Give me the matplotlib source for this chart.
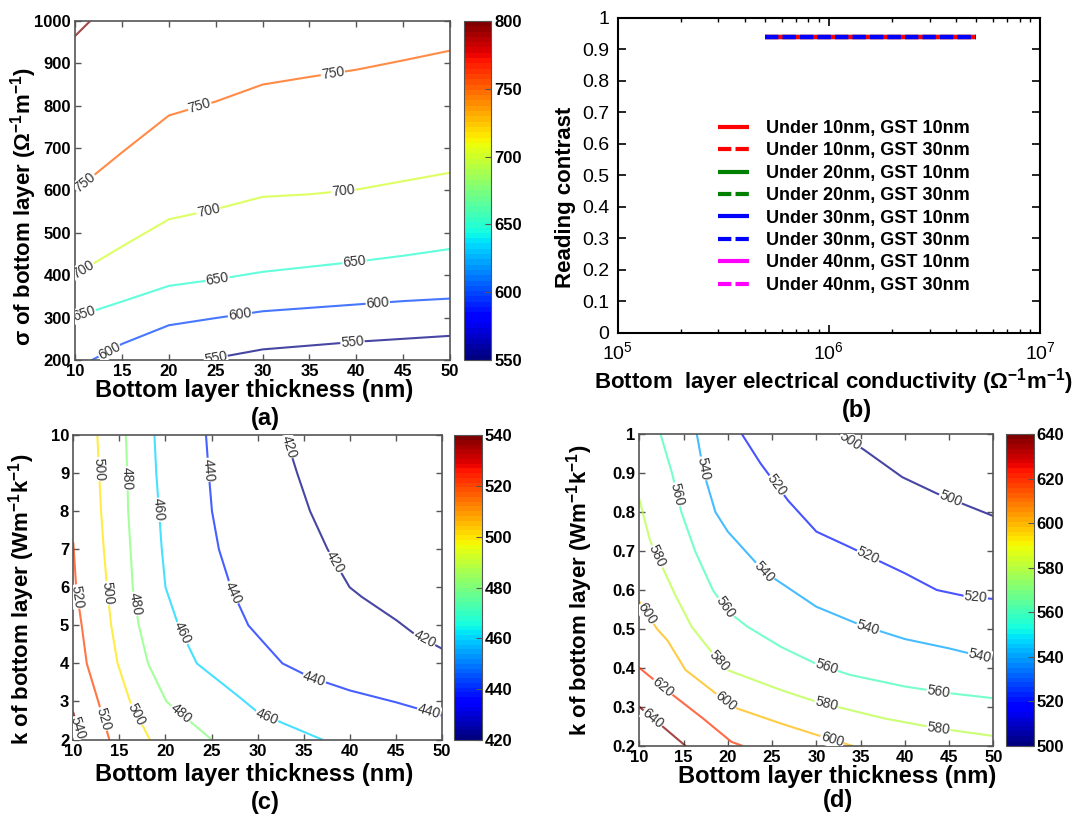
import numpy as np
import matplotlib
matplotlib.use('Agg')
import matplotlib.pyplot as plt
from matplotlib import cm, colors
from matplotlib.ticker import NullFormatter

plt.rcParams['font.family'] = ['Liberation Sans', 'DejaVu Sans']
plt.rcParams['mathtext.fontset'] = 'custom'
plt.rcParams['mathtext.rm'] = 'Liberation Sans'
plt.rcParams['mathtext.bf'] = 'Liberation Sans:bold'

W, H = 1092, 816
cmap = plt.get_cmap('jet', 64)

# (a) peak temperature vs bottom layer thickness and sigma
a_levels = [550, 800]
a_lines = {
    800: ([10, 11.6], [965, 1000]),
    750: ([10, 15, 20, 25, 30, 35, 40, 45, 50], [600, 690, 777, 810, 850, 868, 885, 907, 930]),
    700: ([10, 15, 20, 25, 30, 35, 40, 45, 50], [402, 468, 532, 556, 585, 591, 602, 622, 642]),
    650: ([10, 15, 20, 25, 30, 35, 40, 45, 50], [302, 338, 375, 390, 408, 420, 432, 446, 462]),
    600: ([11.8, 15, 20, 25, 30, 35, 40, 45, 50], [200, 238, 282, 299, 315, 323, 331, 339, 345]),
    550: ([23.8, 30, 35, 40, 45, 50], [200, 225, 234, 243, 250, 257]),
}
a_label_at = {
    750: [(11.0, 621), (23.3, 798), (37.5, 876)],
    700: [(11.0, 408), (24.2, 554), (38.6, 600)],
    650: [(11.2, 293), (25.2, 390), (39.8, 434)],
    600: [(13.7, 219), (27.6, 304), (42.3, 333)],
    550: [(25.0, 205), (39.6, 240)],
}

# (b) reading contrast vs bottom layer conductivity
b_names = ['Under 10nm, GST 10nm', 'Under 10nm, GST 30nm',
           'Under 20nm, GST 10nm', 'Under 20nm, GST 30nm',
           'Under 30nm, GST 10nm', 'Under 30nm, GST 30nm',
           'Under 40nm, GST 10nm', 'Under 40nm, GST 30nm']
b_sigma = [5e5, 5e6]
b_contrast = [0.94, 0.94, 0.94, 0.94, 0.94, 0.94, 0.94, 0.94]
b_colors = ['#ff0000', '#ff0000', '#008000', '#008000',
            '#0000ff', '#0000ff', '#ff00ff', '#ff00ff']
b_dashed = [False, True, False, True, False, True, False, True]
b_zorder = [3, 2, 2, 2, 2, 4, 1, 1]

# (c) peak temperature vs thickness and k (2..10)
c_levels = [420, 540]
c_lines = {
    540: ([10, 10.9], [2.7, 2.0]),
    520: ([10, 10.3, 10.9, 11.45, 12.7, 13.9], [7.15, 6.0, 5.0, 4.0, 3.0, 2.0]),
    500: ([12.6, 12.8, 13.0, 13.3, 13.65, 14.1, 14.8, 16.15, 18.3], [10, 9, 8, 7, 6, 5, 4, 3, 2]),
    480: ([15.7, 15.85, 15.95, 16.2, 16.45, 17.1, 18.1, 20.1, 25.0], [10, 9, 8, 7, 6, 5, 4, 3, 2]),
    460: ([18.8, 19.0, 19.3, 19.6, 20.0, 21.4, 23.4, 28.1, 30.1, 37.0],
          [10, 9, 8, 7, 6, 5, 4, 3.1, 2.7, 2.0]),
    440: ([24.4, 24.7, 25.05, 25.8, 27.1, 29.0, 30.1, 32.7, 35.7, 40, 45, 50],
          [10, 9, 8, 7, 6, 5, 4.7, 4.0, 3.64, 3.29, 2.98, 2.63]),
    420: ([33.0, 34.3, 35.7, 37.6, 40, 41.3, 45.1, 47.0, 50],
          [10, 9, 8, 7, 6, 5.75, 5.13, 4.78, 4.39]),
}
c_label_at = {
    540: [(10.4, 2.3)],
    520: [(10.3, 5.75), (13.4, 2.55)],
    500: [(12.4, 9.1), (13.3, 5.83), (17.0, 2.68)],
    480: [(15.6, 8.86), (16.8, 5.57), (21.5, 2.63)],
    460: [(19.0, 8.03), (21.7, 4.78), (30.9, 2.54)],
    440: [(24.5, 9.08), (27.5, 5.88), (36.1, 3.55), (48.6, 2.72)],
    420: [(33.3, 9.69), (38.2, 6.62), (48.1, 4.62)],
}

# (d) peak temperature vs thickness and k (0.2..1)
d_levels = [500, 640]
d_lines = {
    500: ([32.7, 35.4, 39.7, 43.6, 50], [1.0, 0.96, 0.89, 0.848, 0.79]),
    520: ([21.6, 23.7, 26.8, 30.0, 33.8, 40, 43.6, 47.1, 50],
          [1.0, 0.925, 0.83, 0.75, 0.71, 0.643, 0.60, 0.583, 0.577]),
    540: ([16.5, 17.3, 18.6, 20, 24.1, 30, 35, 40, 45, 50],
          [1.0, 0.9, 0.8, 0.75, 0.647, 0.557, 0.51, 0.474, 0.45, 0.422]),
    560: ([12.4, 13.7, 14.75, 16.3, 18.3, 20, 22.2, 26.0, 30, 33.8, 40, 45, 50],
          [1.0, 0.9, 0.8, 0.70, 0.60, 0.545, 0.506, 0.454, 0.41, 0.382, 0.352, 0.335, 0.322]),
    580: ([10, 11.2, 14.0, 15.9, 18.3, 20, 26.0, 30, 37.7, 43.6, 50],
          [0.833, 0.728, 0.59, 0.506, 0.437, 0.394, 0.343, 0.313, 0.27, 0.245, 0.225]),
    600: ([10, 12, 13.2, 15.2, 18.6, 20.5, 26.0, 30, 34.0],
          [0.57, 0.50, 0.47, 0.395, 0.335, 0.30, 0.257, 0.228, 0.2]),
    620: ([10, 13.8, 17.2, 20.4, 21.6], [0.40, 0.33, 0.27, 0.21, 0.2]),
    640: ([10, 15.2], [0.30, 0.2]),
}
d_label_at = {
    500: [(33.6, 0.973), (45.1, 0.831)],
    520: [(25.4, 0.867), (35.8, 0.686), (48.0, 0.58)],
    540: [(17.4, 0.913), (24.1, 0.647), (35.8, 0.50), (48.4, 0.424)],
    560: [(14.0, 0.844), (19.6, 0.553), (31.1, 0.399), (43.8, 0.339)],
    580: [(12.0, 0.686), (19.1, 0.418), (31.1, 0.304), (43.8, 0.245)],
    600: [(10.7, 0.536), (19.6, 0.309), (31.7, 0.21)],
    620: [(12.4, 0.343)],
    640: [(11.3, 0.264)],
}


def rect(x0, y0, x1, y1):
    # pixel box (left, top, right, bottom) -> figure fraction
    return [x0 / W, 1 - y1 / H, (x1 - x0) / W, (y1 - y0) / H]


def style_axes(ax, xticks, yticks, edge='#555555'):
    ax.set_xticks(xticks, [f'{t:g}' for t in xticks], fontweight='bold', fontsize=12)
    ax.set_yticks(yticks, [f'{t:g}' for t in yticks], fontweight='bold', fontsize=12)
    ax.tick_params(direction='in', top=True, right=True, length=4, width=1,
                   color=edge, pad=3)
    for s in ax.spines.values():
        s.set_color(edge)
        s.set_linewidth(1.2)


def draw_contours(ax, lines, label_at, norm):
    for lev, (xs, ys) in lines.items():
        ax.plot(xs, ys, color=cmap(norm(lev)), lw=1.5, alpha=0.72, zorder=2)
    inv = ax.transData.inverted()
    for lev, spots in label_at.items():
        xs, ys = lines[lev]
        pts = ax.transData.transform(np.column_stack([xs, ys]))
        for spot in spots:
            p = ax.transData.transform(spot)
            best = None
            for a, b in zip(pts[:-1], pts[1:]):
                d = b - a
                t = np.clip(np.dot(p - a, d) / np.dot(d, d), 0, 1)
                q = a + t * d
                dist = np.hypot(*(p - q))
                if best is None or dist < best[0]:
                    best = (dist, q, d)
            _, q, d = best
            ang = np.degrees(np.arctan2(d[1], d[0]))
            if ang > 90:
                ang -= 180
            elif ang < -90:
                ang += 180
            qx, qy = inv.transform(q)
            ax.text(qx, qy, str(lev), rotation=ang, rotation_mode='anchor',
                    ha='center', va='center', fontsize=10, color='#333333',
                    bbox=dict(fc='white', ec='none', pad=0.4), zorder=3, clip_on=True)


def add_cbar(box, lo, hi, ticks):
    cax = fig.add_axes(rect(*box))
    sm = cm.ScalarMappable(norm=colors.Normalize(lo, hi), cmap=cmap)
    cb = fig.colorbar(sm, cax=cax)
    cb.outline.set_edgecolor('#555555')
    cax.set_yticks(ticks, [str(t) for t in ticks], fontweight='bold', fontsize=12)
    cax.tick_params(direction='in', length=4, color='#555555', pad=2)
    return cb


def label(x, y, s, rot=0, size=16):
    fig.text(x / W, 1 - y / H, s, ha='center', va='center', rotation=rot,
             fontsize=size, fontweight='bold')


fig = plt.figure(figsize=(W / 100, H / 100), dpi=100)

# ---- (a) ----
ax_a = fig.add_axes(rect(75.2, 21, 450, 360))
ax_a.set_xlim(10, 50)
ax_a.set_ylim(200, 1000)
style_axes(ax_a, range(10, 51, 5), range(200, 1001, 100))
draw_contours(ax_a, a_lines, a_label_at, colors.Normalize(*a_levels))
add_cbar((463.8, 21, 491.4, 360), a_levels[0], a_levels[1], list(range(550, 801, 50)))
label(254, 390, 'Bottom layer thickness (nm)', size=17)
label(24, 207, 'σ of bottom layer (Ω$^{\\mathregular{-1}}$m$^{\\mathregular{-1}}$)', rot=90)
label(265, 419, '(a)', size=17)

# ---- (b) ----
ax_b = fig.add_axes(rect(617.6, 17.7, 1040, 332.7))
handles = []
for name, c, col, dashed, z in zip(b_names, b_contrast, b_colors, b_dashed, b_zorder):
    ln, = ax_b.plot(b_sigma, [c, c], color=col, lw=3, label=name, zorder=z,
                    solid_capstyle='butt', dash_capstyle='butt')
    if dashed:
        ln.set_dashes((3.2, 1.0))
    handles.append(ln)
ax_b.set_xscale('log')
ax_b.set_xlim(1e5, 1e7)
ax_b.set_ylim(0, 1)
ax_b.set_xticks([1e5, 1e6, 1e7], [r'$\mathregular{10^{5}}$', r'$\mathregular{10^{6}}$',
                                  r'$\mathregular{10^{7}}$'], fontsize=14)
ax_b.xaxis.set_minor_formatter(NullFormatter())
yt = np.round(np.arange(0, 1.01, 0.1), 1)
ax_b.set_yticks(yt, [f'{t:g}' for t in yt], fontsize=14)
ax_b.tick_params(which='both', direction='in', top=True, right=True, color='black')
ax_b.tick_params(which='major', length=6, width=1.2, pad=6)
ax_b.tick_params(which='minor', length=3, width=1)
for s in ax_b.spines.values():
    s.set_linewidth(1.5)
ax_b.legend(handles=handles, loc='upper left', frameon=False,
            bbox_to_anchor=(717.6 / W, 1 - 120 / H), bbox_transform=fig.transFigure,
            prop={'weight': 'bold', 'size': 13}, handlelength=1.72, handletextpad=0.95,
            labelspacing=0.3, borderpad=0, borderaxespad=0)
label(833, 382, 'Bottom  layer electrical conductivity (Ω$^{\\mathregular{-1}}$m$^{\\mathregular{-1}}$)')
label(566, 197, 'Reading contrast', rot=90)
label(857, 410, '(b)', size=17)

# ---- (c) ----
ax_c = fig.add_axes(rect(73.4, 435, 441.7, 739.5))
ax_c.set_xlim(10, 50)
ax_c.set_ylim(2, 10)
style_axes(ax_c, range(10, 51, 5), range(2, 11))
draw_contours(ax_c, c_lines, c_label_at, colors.Normalize(*c_levels))
add_cbar((454.3, 435, 481.7, 740), c_levels[0], c_levels[1], list(range(420, 541, 20)))
label(254, 775, 'Bottom layer thickness (nm)', size=17)
label(22, 599, 'k of bottom layer (Wm$^{\\mathregular{-1}}$k$^{\\mathregular{-1}}$)', rot=90)
label(265, 803, '(c)', size=17)

# ---- (d) ----
ax_d = fig.add_axes(rect(639.3, 434.3, 993.4, 745.7))
ax_d.set_xlim(10, 50)
ax_d.set_ylim(0.2, 1)
style_axes(ax_d, range(10, 51, 5), np.round(np.arange(0.2, 1.01, 0.1), 1))
draw_contours(ax_d, d_lines, d_label_at, colors.Normalize(*d_levels))
add_cbar((1006.2, 434.3, 1033.8, 745.7), d_levels[0], d_levels[1], list(range(500, 641, 20)))
label(837, 776, 'Bottom layer thickness (nm)', size=17)
label(580, 590, 'k of bottom layer (Wm$^{\\mathregular{-1}}$k$^{\\mathregular{-1}}$)', rot=90)
label(838, 800, '(d)', size=17)

fig.savefig('out.png', dpi=100)
